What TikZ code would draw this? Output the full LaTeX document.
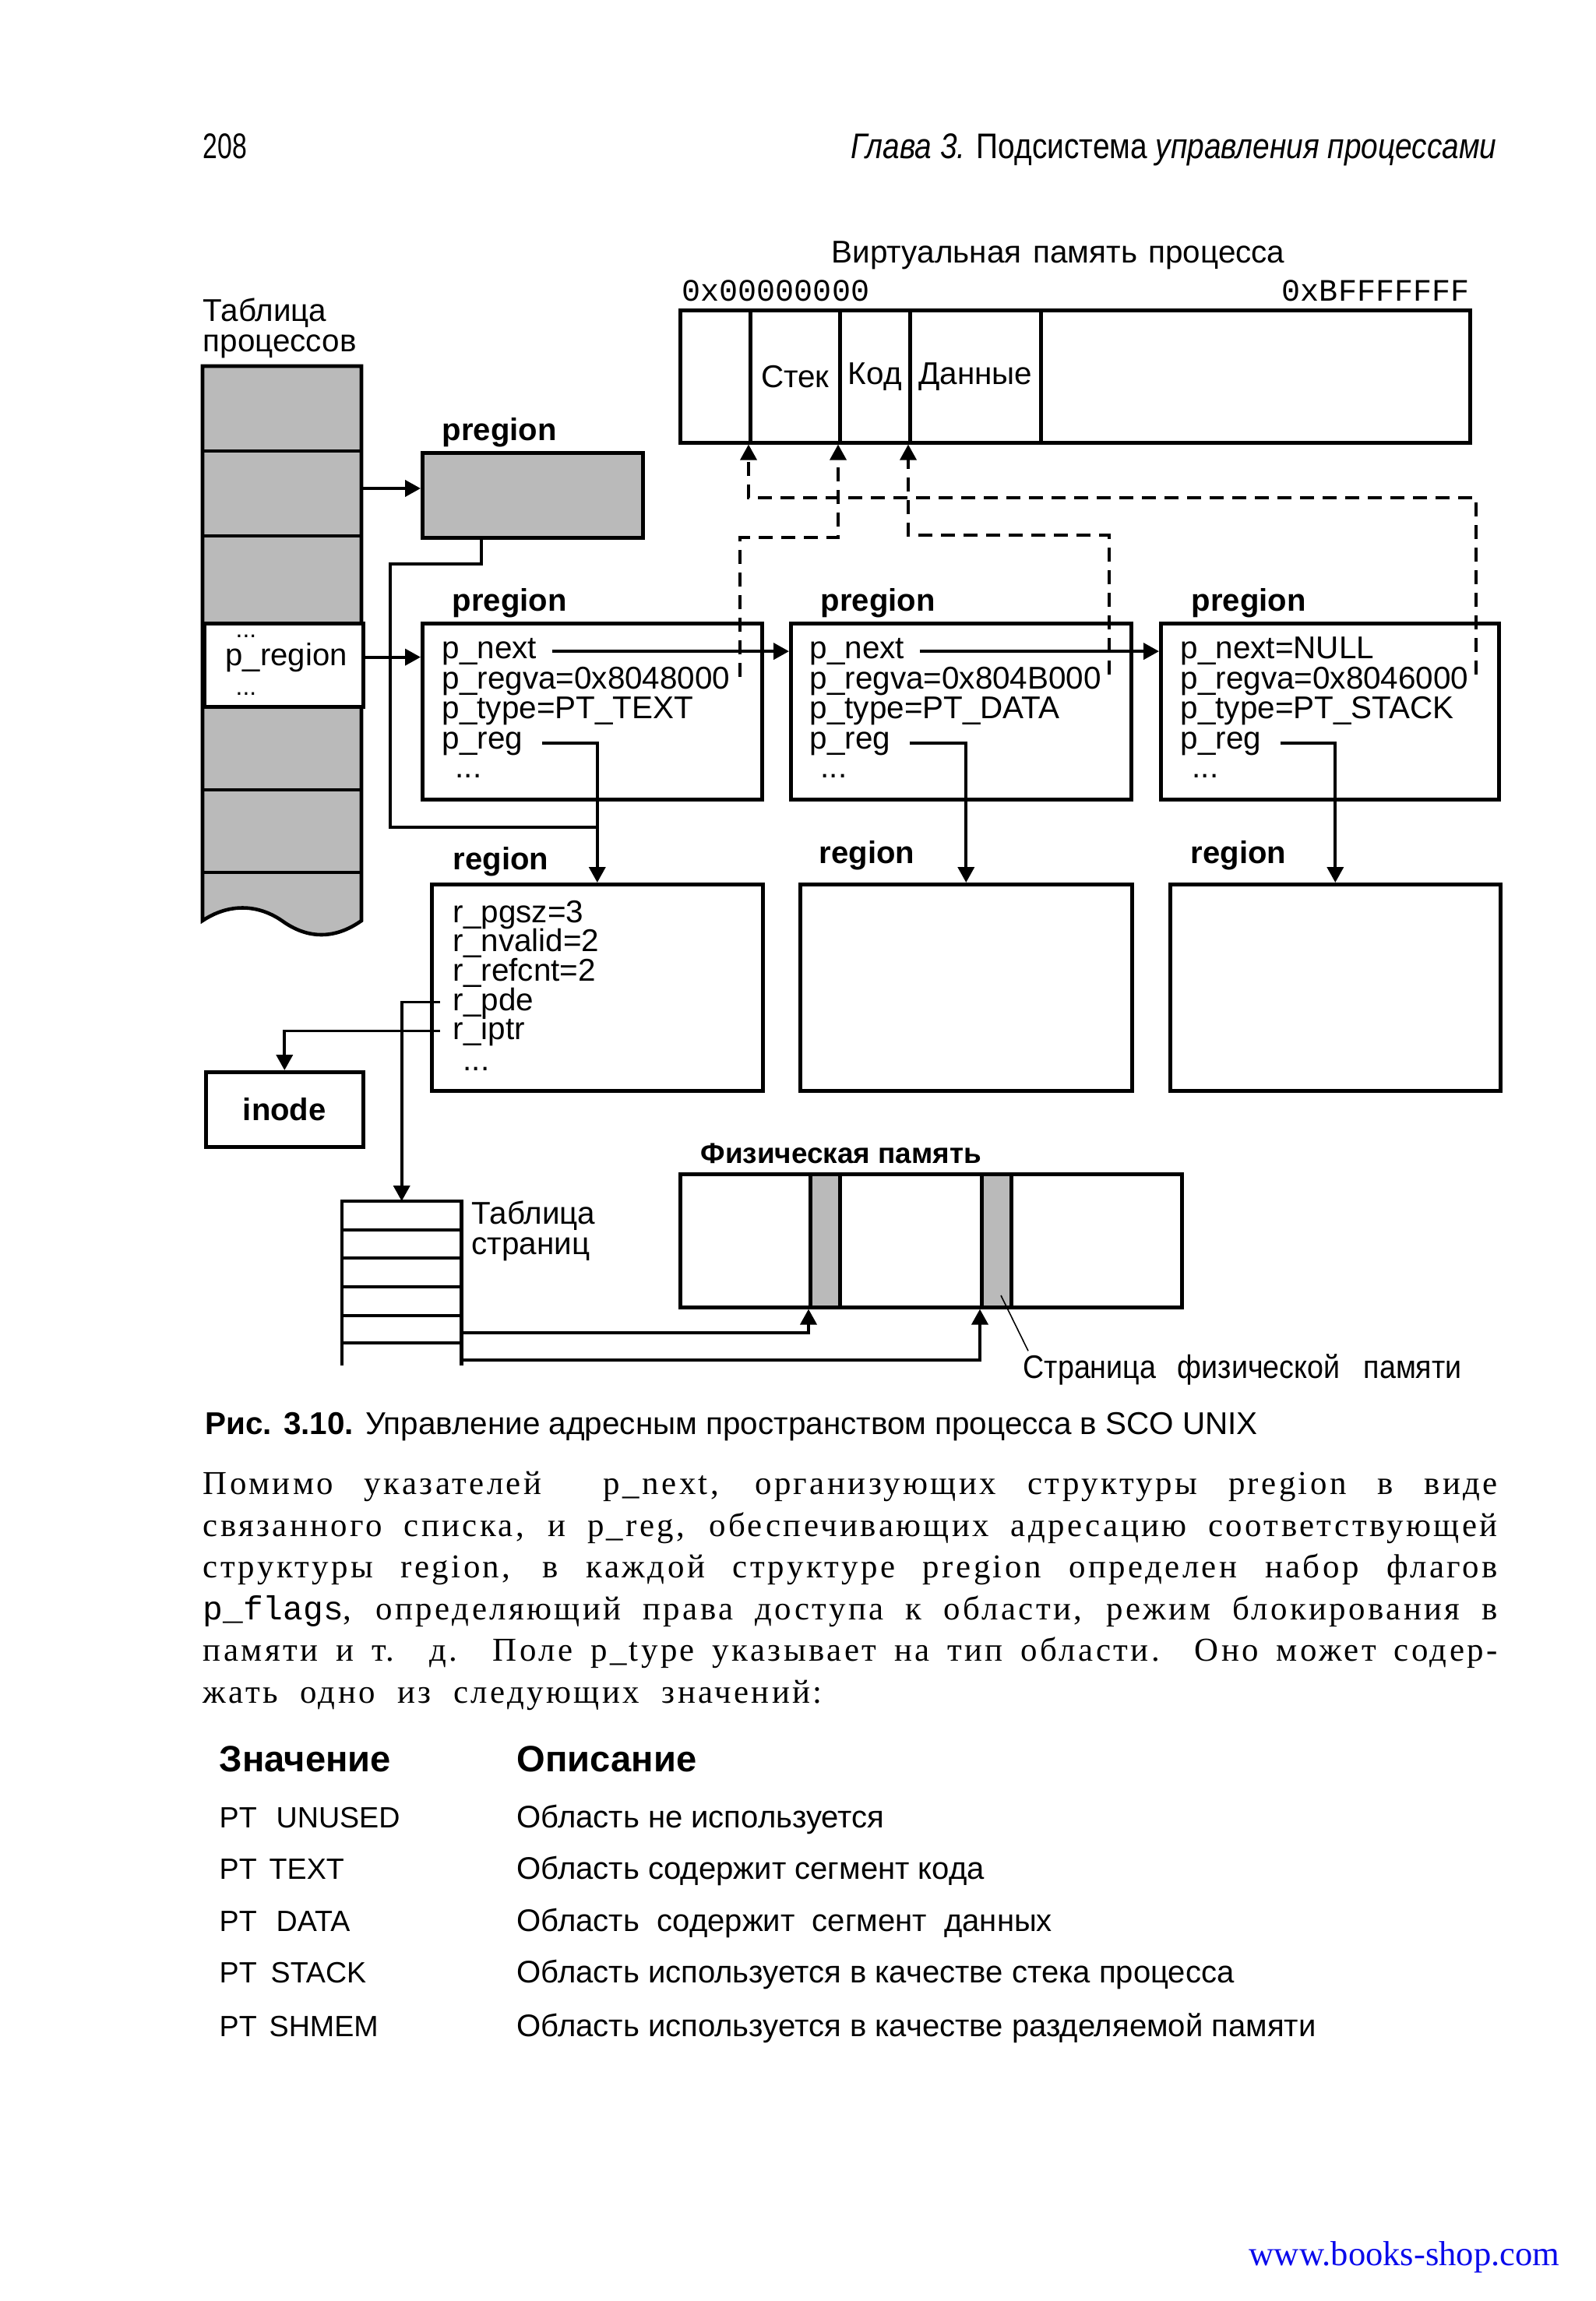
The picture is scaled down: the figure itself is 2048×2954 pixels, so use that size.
\documentclass[tikz,border=0pt]{standalone}
\usepackage{fontspec}
\setmainfont{Liberation Sans}
\newfontfamily\bodyserif[LetterSpace=8]{Liberation Serif}
\newfontfamily\urlserif{Liberation Serif}
\newfontfamily\condsf[FakeStretch=0.85]{Liberation Sans}
\newfontfamily\pagenosf[FakeStretch=0.74]{Liberation Sans}
\newfontfamily\narrowsf[FakeStretch=0.9]{Liberation Sans}
\newfontfamily\codemono{Liberation Mono}
\usetikzlibrary{arrows.meta, positioning, calc}
\definecolor{halftone}{gray}{0.73}
\definecolor{urlblue}{RGB}{10, 10, 235}
\tikzset{
  box/.style = {draw, line width=1.3pt, rectangle, inner sep=0pt, anchor=north west},
  grayfill/.style = {fill=halftone},
  fld/.style = {inner sep=0pt, anchor=base west, font=\fontsize{11.5pt}{13pt}\selectfont},
  lbl/.style = {inner sep=0pt, anchor=base west, font=\fontsize{11.4pt}{13pt}\selectfont\bfseries},
  arr/.style = {-{Triangle[length=2mm, width=2.1mm]}, line width=1.1pt},
  link/.style = {line width=1.1pt},
  dlink/.style = {-{Triangle[length=2mm, width=2.1mm]}, line width=1pt, dash pattern=on 1.8mm off 1.1mm},
  bodyline/.style = {inner sep=0pt, anchor=base west, font=\bodyserif\fontsize{12.2pt}{14pt}\selectfont},
  tbl/.style = {inner sep=0pt, anchor=base west, font=\fontsize{10.7pt}{12pt}\selectfont},
  tbldesc/.style = {inner sep=0pt, anchor=base west, font=\fontsize{11.4pt}{13pt}\selectfont},
  tblhead/.style = {inner sep=0pt, anchor=base west, font=\fontsize{13.4pt}{15pt}\selectfont\bfseries},
}

\begin{document}
\begin{tikzpicture}[x=0.1mm, y=-0.1mm]
  \useasboundingbox (0,0) rectangle (2048,2954);

  %% Running head
  \node[inner sep=0pt, anchor=base west, font=\pagenosf\fontsize{13pt}{15pt}\selectfont] (pgno) at (260,204) {208};
  \node[inner sep=0pt, anchor=base east, font=\condsf\fontsize{13pt}{15pt}\selectfont] (chap) at (1922,204)
    {\textit{Глава 3.} Подсистема \textit{управления процессами}};

  %% Process table
  \node[fld] (tt1) at (260,413) {Таблица};
  \node[fld] (tt2) at (260,452) {процессов};
  \draw[line width=1.3pt, grayfill] (260,1182) -- (260,470) -- (464,470) -- (464,1182)
    .. controls (430,1206) and (395,1206) .. (362,1182)
    .. controls (330,1160) and (293,1160) .. (260,1182) -- cycle;
  \draw[line width=1.3pt] (260,579) -- (464,579) (260,688) -- (464,688)
    (260,1014) -- (464,1014) (260,1120) -- (464,1120);
  \node[box, fill=white, minimum width=20.4mm, minimum height=10.7mm] (prow) at (260,798) {};
  \node[fld, font=\fontsize{9pt}{10pt}\selectfont] (dots1) at (302,818) {...};
  \node[fld, font=\fontsize{11.4pt}{13pt}\selectfont] (ptxt) at (289,854) {p\_region};
  \node[fld, font=\fontsize{9pt}{10pt}\selectfont] (dots2) at (302,892) {...};
  \coordinate (row2) at (464,627);

  %% Top pregion
  \node[box, grayfill, minimum width=28.3mm, minimum height=10.9mm] (pr0) at (540,579) {};
  \node[lbl] (pr0l) at (567,566) {pregion};
  \draw[arr] (row2) -- (row2 -| pr0.west);

  %% pregion list
  \node[box, minimum width=43.6mm, minimum height=22.6mm] (pr1) at (540,798) {};
  \node[box, minimum width=43.7mm, minimum height=22.6mm] (pr2) at (1013,798) {};
  \node[box, minimum width=43.4mm, minimum height=22.6mm] (pr3) at (1488,798) {};
  \node[lbl] (pr1l) at (580,784) {pregion};
  \node[lbl] (pr2l) at (1053,784) {pregion};
  \node[lbl] (pr3l) at (1529,784) {pregion};
  \draw[arr] (ptxt -| prow.east) -- (ptxt -| pr1.west);

  \node[fld] (pn1) at (567,845) {p\_next};
  \node[fld] (pv1) at (567,884) {p\_regva=0x8048000};
  \node[fld] (pt1) at (567,922) {p\_type=PT\_TEXT};
  \node[fld] (pg1) at (567,961) {p\_reg};
  \node[fld] (pd1) at (584,998) {...};

  \node[fld] (pn2) at (1039,845) {p\_next};
  \node[fld] (pv2) at (1039,884) {p\_regva=0x804B000};
  \node[fld] (pt2) at (1039,922) {p\_type=PT\_DATA};
  \node[fld] (pg2) at (1039,961) {p\_reg};
  \node[fld] (pd2) at (1053,998) {...};

  \node[fld] (pn3) at (1515,845) {p\_next=NULL};
  \node[fld] (pv3) at (1515,884) {p\_regva=0x8046000};
  \node[fld] (pt3) at (1515,922) {p\_type=PT\_STACK};
  \node[fld] (pg3) at (1515,961) {p\_reg};
  \node[fld] (pd3) at (1530,998) {...};

  %% regions
  \node[box, minimum width=42.5mm, minimum height=26.5mm] (rg1) at (552,1133) {};
  \node[box, minimum width=42.6mm, minimum height=26.5mm] (rg2) at (1025,1133) {};
  \node[box, minimum width=42.4mm, minimum height=26.5mm] (rg3) at (1500,1133) {};
  \node[lbl] (rg1l) at (581,1116) {region};
  \node[lbl] (rg2l) at (1051,1108) {region};
  \node[lbl] (rg3l) at (1528,1108) {region};

  \node[fld] (rf1) at (581,1184) {r\_pgsz=3};
  \node[fld] (rf2) at (581,1221) {r\_nvalid=2};
  \node[fld] (rf3) at (581,1259) {r\_refcnt=2};
  \node[fld] (rf4) at (581,1297) {r\_pde};
  \node[fld] (rf5) at (581,1334) {r\_iptr};
  \node[fld] (rf6) at (594,1374) {...};

  %% pregion links
  \draw[arr] ([xshift=1.9mm]pn1.east) -- (pn1.east -| pr2.west);
  \draw[arr] ([xshift=1.9mm]pn2.east) -- (pn2.east -| pr3.west);
  \draw[arr] ([xshift=2.4mm]pg1.east) -| (rg1.north);
  \draw[arr] ([xshift=2.4mm]pg2.east) -| (rg2.north);
  \draw[arr] ([xshift=2.4mm]pg3.east) -| (rg3.north);
  \coordinate (pr0o) at ($(pr0.south west)!0.27!(pr0.south east)$);
  \coordinate (join) at (764.5,1062);
  \draw[link] (pr0o) |- (501,724) |- (join);

  %% Virtual memory
  \node[inner sep=0pt, anchor=base west, font=\fontsize{11.5pt}{13pt}\selectfont] (vmt) at (1067,338)
    {Виртуальная\hspace{0.4mm} память\hspace{0.3mm} процесса};
  \node[inner sep=0pt, anchor=base west, font=\codemono\fontsize{11.4pt}{13pt}\selectfont] (a0) at (875,387) {0x00000000};
  \node[inner sep=0pt, anchor=base east, font=\codemono\fontsize{11.4pt}{13pt}\selectfont] (a1) at (1887,387) {0xBFFFFFFF};
  \node[box, minimum width=9mm, minimum height=17mm] (vm0) at (871,396) {};
  \node[box, minimum width=11.5mm, minimum height=17mm, font=\fontsize{11.5pt}{13pt}\selectfont] (stk) at (961,396) {Стек};
  \node[box, minimum width=9mm, minimum height=17mm, font=\fontsize{11.5pt}{13pt}\selectfont] (cod) at (1076,396) {Код};
  \node[box, minimum width=16.8mm, minimum height=17mm, font=\fontsize{11.5pt}{13pt}\selectfont] (dat) at (1166,396) {Данные};
  \node[box, minimum width=55.1mm, minimum height=17mm] (vmr) at (1334,396) {};

  %% pregion -> virtual memory
  \coordinate (d1) at (950,869);
  \coordinate (d2) at (1424,866);
  \coordinate (d3) at (1895,866);
  \draw[dlink] (d1) -- (950,690) -| (cod.south west);
  \draw[dlink] (d2) -- (1424,687) -| (dat.south west);
  \draw[dlink] (d3) -- (1895,639) -| (stk.south west);

  %% inode and page table
  \node[box, minimum width=20.2mm, minimum height=9.6mm, font=\fontsize{11.4pt}{13pt}\selectfont\bfseries] (inode) at (262,1374) {inode};
  \node[inner sep=0pt, minimum width=15.2mm, minimum height=21mm, anchor=north west] (ptab) at (439,1542) {};
  \draw[line width=1.3pt] (ptab.south west) -- (ptab.north west) -- (ptab.north east) -- (ptab.south east);
  \draw[line width=1.3pt] (439,1579) -- (591,1579) (439,1615) -- (591,1615) (439,1652) -- (591,1652)
    (439,1689) -- (591,1689) (439,1724) -- (591,1724);
  \node[fld] (ptt1) at (605,1571) {Таблица};
  \node[fld] (ptt2) at (605,1610) {страниц};
  \draw[arr] ([xshift=-1.6mm]rf4.west) -| (ptab.north);
  \draw[arr] ([xshift=-1.6mm]rf5.west) -| (inode.north);

  %% Physical memory
  \node[lbl, font=\fontsize{10.5pt}{12pt}\selectfont\bfseries] (physl) at (899,1493) {Физическая память};
  \node[box, minimum width=64.4mm, minimum height=17.1mm] (phys) at (871,1505) {};
  \node[box, grayfill, minimum width=3.8mm, minimum height=17.1mm] (pp1) at (1038,1505) {};
  \node[box, grayfill, minimum width=3.8mm, minimum height=17.1mm] (pp2) at (1258,1505) {};
  \coordinate (pt5) at (591,1711);
  \coordinate (pt6) at (591,1746);
  \draw[arr] (pt5) -| (pp1.south west);
  \draw[arr] (pt6) -| (pp2.south west);
  \node[inner sep=0pt, anchor=base west, font=\narrowsf\fontsize{11.9pt}{14pt}\selectfont] (pgl) at (1313,1769)
    {Страница\hspace{1.7mm} физической\hspace{2mm} памяти};
  \coordinate (ldr) at (1285,1663);
  \draw[line width=0.45pt] (ldr) -- ([xshift=0.7mm, yshift=0.3mm]pgl.north west);

  %% Caption
  \node[inner sep=0pt, anchor=base west, font=\fontsize{11.5pt}{13pt}\selectfont] (cap) at (263,1841)
    {\textbf{Рис. 3.10.} Управление адресным пространством процесса в SCO UNIX};

  %% Body text
  \node[bodyline] (b1) at (260,1918) {\makebox[166.2mm][s]{Помимо указателей\ \ p\_next, организующих структуры pregion в виде}};
  \node[bodyline] (b2) at (260,1972) {\makebox[166.2mm][s]{связанного списка, и p\_reg, обеспечивающих адресацию соответствующей}};
  \node[bodyline] (b3) at (260,2025) {\makebox[166.2mm][s]{структуры region, в каждой структуре pregion определен набор флагов}};
  \node[bodyline] (b4) at (260,2079) {\makebox[166.2mm][s]{{\codemono p\_flags}, определяющий права доступа к области, режим блокирования в}};
  \node[bodyline] (b5) at (260,2132) {\makebox[166.2mm][s]{памяти и т. д. Поле p\_type указывает на тип области. Оно может содер-}};
  \node[bodyline] (b6) at (260,2186) {\makebox[79.5mm][s]{жать одно из следующих значений:}};

  %% Value table
  \node[tblhead] (th1) at (281,2274) {Значение};
  \node[tblhead] (th2) at (663,2274) {Описание};
  \node[tbl] (v1a) at (281,2346) {PT};
  \node[tbl] (v1b) at (354,2346) {UNUSED};
  \node[tbldesc] (ds1) at (663,2346) {Область не используется};
  \node[tbl] (v2a) at (281,2412) {PT};
  \node[tbl] (v2b) at (345,2412) {TEXT};
  \node[tbldesc] (ds2) at (663,2412) {Область содержит сегмент кода};
  \node[tbl] (v3a) at (281,2479) {PT};
  \node[tbl] (v3b) at (354,2479) {DATA};
  \node[tbldesc] (ds3) at (663,2479) {Область\ \ содержит\ \ сегмент\ \ данных};
  \node[tbl] (v4a) at (281,2545) {PT};
  \node[tbl] (v4b) at (347,2545) {STACK};
  \node[tbldesc] (ds4) at (663,2545) {Область используется в качестве стека процесса};
  \node[tbl] (v5a) at (281,2614) {PT};
  \node[tbl] (v5b) at (345,2614) {SHMEM};
  \node[tbldesc] (ds5) at (663,2614) {Область используется в качестве разделяемой памяти};

  %% Footer
  \node[inner sep=0pt, anchor=base west, text=urlblue, font=\urlserif\fontsize{12.7pt}{14pt}\selectfont] (url) at (1603,2908) {www.books-shop.com};

\end{tikzpicture}
\end{document}
